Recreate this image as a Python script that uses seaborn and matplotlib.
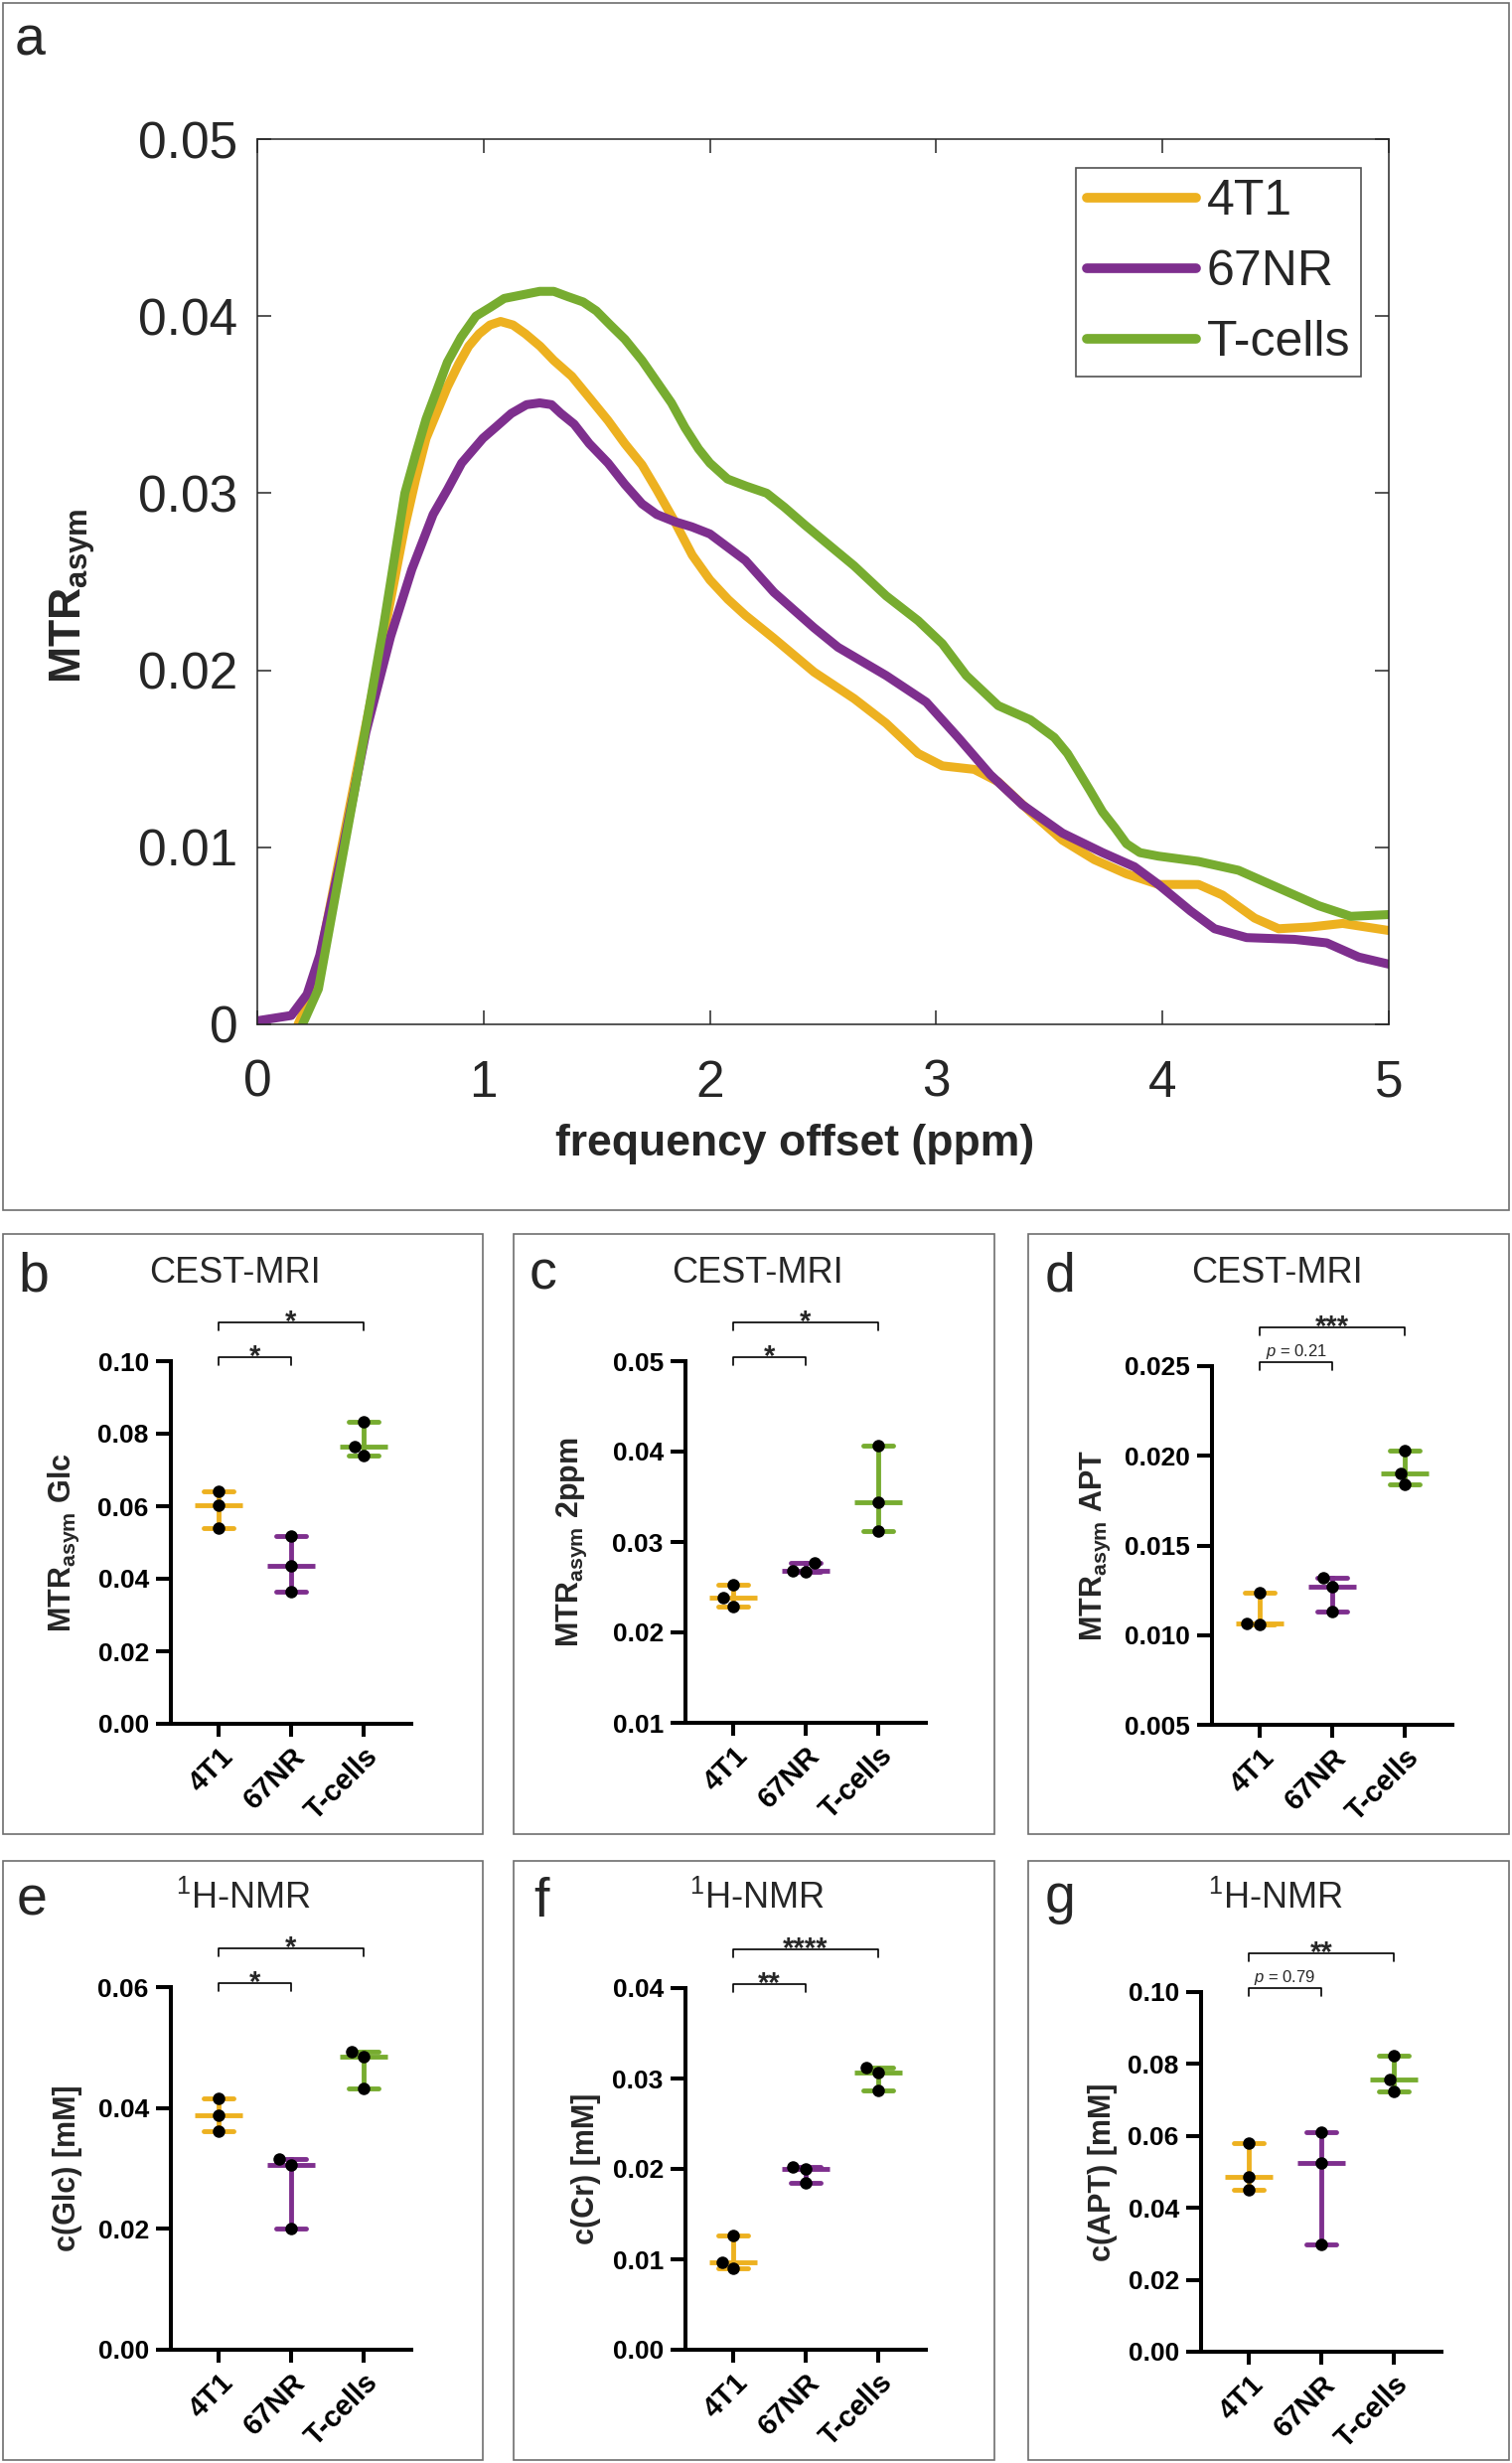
import numpy as np
import pandas as pd
import matplotlib
matplotlib.use('Agg')
import matplotlib.pyplot as plt
import matplotlib.transforms as mtransforms
from matplotlib.patches import Rectangle
from matplotlib.ticker import FormatStrFormatter
import seaborn as sns

# ---- panel a: MTRasym z-spectra ----
ppm_4t1 = [0.18, 0.25, 0.354, 0.45, 0.558, 0.65, 0.70, 0.746, 0.84, 0.89, 0.934, 0.98, 1.028,
           1.075, 1.13, 1.185, 1.25, 1.31, 1.39, 1.467, 1.55, 1.624, 1.70, 1.765, 1.84, 1.922,
           2.0, 2.08, 2.157, 2.283, 2.46, 2.637, 2.779, 2.92, 3.027, 3.168, 3.274, 3.416,
           3.558, 3.699, 3.841, 3.982, 4.159, 4.265, 4.407, 4.513, 4.655, 4.796, 5.0]
mtr_4t1 = [0.0, 0.002, 0.0088, 0.0150, 0.0219, 0.0280, 0.0308, 0.0331, 0.0360, 0.0373, 0.0383,
           0.0390, 0.0395, 0.0397, 0.0395, 0.0390, 0.0383, 0.0375, 0.0366, 0.0354, 0.0341,
           0.0328, 0.0316, 0.0302, 0.0285, 0.0265, 0.0251, 0.0240, 0.0231, 0.0218, 0.0199,
           0.0184, 0.0170, 0.0153, 0.0146, 0.0144, 0.0137, 0.0120, 0.0104, 0.0093, 0.0085,
           0.0079, 0.0079, 0.0073, 0.0060, 0.0054, 0.0055, 0.0057, 0.0053]

ppm_67nr = [0.0, 0.15, 0.22, 0.276, 0.37, 0.48, 0.589, 0.683, 0.777, 0.84, 0.903, 0.997, 1.06,
            1.122, 1.19, 1.248, 1.30, 1.342, 1.40, 1.467, 1.55, 1.624, 1.70, 1.765, 1.843,
            1.92, 2.0, 2.157, 2.283, 2.46, 2.566, 2.779, 2.956, 3.097, 3.239, 3.381, 3.558,
            3.735, 3.876, 3.982, 4.124, 4.23, 4.372, 4.584, 4.726, 4.867, 5.0]
mtr_67nr = [0.0002, 0.0005, 0.0017, 0.0039, 0.0094, 0.0165, 0.0219, 0.0257, 0.0288, 0.0302,
            0.0317, 0.0331, 0.0338, 0.0345, 0.0350, 0.0351, 0.0350, 0.0345, 0.0339, 0.0328,
            0.0317, 0.0305, 0.0294, 0.0288, 0.0284, 0.0281, 0.0277, 0.0262, 0.0244, 0.0224,
            0.0213, 0.0197, 0.0182, 0.0162, 0.0141, 0.0124, 0.0108, 0.0097, 0.0089, 0.0079,
            0.0064, 0.0054, 0.0049, 0.0048, 0.0046, 0.0038, 0.0034]

ppm_tcell = [0.2, 0.27, 0.354, 0.433, 0.558, 0.652, 0.70, 0.746, 0.84, 0.90, 0.966, 1.03, 1.091,
             1.17, 1.248, 1.31, 1.373, 1.44, 1.498, 1.56, 1.624, 1.70, 1.765, 1.83, 1.89, 1.95,
             2.0, 2.078, 2.16, 2.251, 2.33, 2.42, 2.637, 2.779, 2.92, 3.027, 3.133, 3.274,
             3.416, 3.522, 3.58, 3.628, 3.68, 3.735, 3.79, 3.841, 3.90, 3.982, 4.159, 4.336,
             4.513, 4.69, 4.832, 5.0]
mtr_tcell = [0.0, 0.002, 0.0079, 0.0134, 0.0225, 0.0300, 0.0322, 0.0342, 0.0374, 0.0388,
             0.0400, 0.0405, 0.0410, 0.0412, 0.0414, 0.0414, 0.0411, 0.0408, 0.0403, 0.0395,
             0.0387, 0.0375, 0.0363, 0.0351, 0.0337, 0.0325, 0.0317, 0.0308, 0.0304, 0.0300,
             0.0292, 0.0282, 0.0259, 0.0242, 0.0228, 0.0215, 0.0197, 0.0180, 0.0172, 0.0162,
             0.0153, 0.0143, 0.0132, 0.0120, 0.0111, 0.0102, 0.0097, 0.0095, 0.0092, 0.0087,
             0.0077, 0.0067, 0.0061, 0.0062]

# ---- panels b-g: three replicates per group ----
groups = ['4T1', '67NR', 'T-cells']
colors = ['#EDB120', '#7E2F8E', '#77AC30']

cest_glc = [[0.0641, 0.0603, 0.0539], [0.0517, 0.0436, 0.0364], [0.0832, 0.0764, 0.0739]]
cest_2ppm = [[0.02526, 0.02383, 0.02291], [0.02770, 0.02683, 0.02674], [0.04065, 0.03435, 0.03122]]
cest_apt = [[0.01237, 0.01059, 0.01066], [0.01320, 0.01272, 0.01129], [0.02029, 0.01904, 0.01838]]
nmr_glc = [[0.04159, 0.03885, 0.03612], [0.03150, 0.03052, 0.01998], [0.04927, 0.04855, 0.04328]]
nmr_cr = [[0.01261, 0.00965, 0.00900], [0.02022, 0.01996, 0.01848], [0.03117, 0.03061, 0.02865]]
nmr_apt = [[0.05814, 0.04852, 0.04503], [0.06109, 0.05246, 0.02995], [0.08219, 0.07563, 0.07235]]

sns.set_theme(style='ticks')
plt.rcParams['font.family'] = ['Liberation Sans', 'DejaVu Sans']
plt.rcParams['mathtext.fontset'] = 'custom'
plt.rcParams['mathtext.rm'] = 'Liberation Sans'
plt.rcParams['mathtext.bf'] = 'Liberation Sans:bold'
plt.rcParams['mathtext.it'] = 'Liberation Sans:italic'

W, H = 1522, 2479
fig = plt.figure(figsize=(W / 100, H / 100), dpi=100)


def px_rect(x0, y0, x1, y1):
    return [x0 / W, 1 - y1 / H, (x1 - x0) / W, (y1 - y0) / H]


# panel frames
frames = [(3, 3, 1519, 1218),
          (3, 1242, 486, 1846), (517, 1242, 1001, 1846), (1035, 1242, 1519, 1846),
          (3, 1873, 486, 2476), (517, 1873, 1001, 2476), (1035, 1873, 1519, 2476)]
for x0, y0, x1, y1 in frames:
    r = px_rect(x0, y0, x1, y1)
    fig.add_artist(Rectangle((r[0], r[1]), r[2], r[3], transform=fig.transFigure,
                             fill=False, ec='#6e6e6e', lw=1.2))

# ---------------- panel a ----------------
ax = fig.add_axes(px_rect(259, 140, 1398, 1031))
spec = pd.DataFrame({
    'ppm': ppm_4t1 + ppm_67nr + ppm_tcell,
    'mtr': mtr_4t1 + mtr_67nr + mtr_tcell,
    'sample': ['4T1'] * len(ppm_4t1) + ['67NR'] * len(ppm_67nr) + ['T-cells'] * len(ppm_tcell),
})
sns.lineplot(data=spec, x='ppm', y='mtr', hue='sample', hue_order=groups, palette=colors,
             estimator=None, lw=6.5, solid_joinstyle='round', legend=False, ax=ax)
ax.set_xlim(0, 5)
ax.set_ylim(0, 0.05)
ax.set_xticks(range(6))
ax.set_yticks(np.arange(0, 0.051, 0.01))
ax.set_yticklabels(['0', '0.01', '0.02', '0.03', '0.04', '0.05'])
ax.tick_params(direction='in', top=True, right=True, length=10, width=1.1,
               labelsize=37, colors='#262626')
ax.tick_params(axis='x', pad=25)
ax.tick_params(axis='y', pad=14)
for s in ax.spines.values():
    s.set_linewidth(1.1)
    s.set_color('#262626')
ax.set_xlabel('frequency offset (ppm)', fontsize=32, fontweight='bold')
ax.xaxis.set_label_coords(0.475, -0.112)
ax.set_ylabel(r'$\mathbf{MTR}_{\mathbf{asym}}$', fontsize=32)
ax.yaxis.set_label_coords(-0.141, 0.484)
leg = ax.legend(ax.lines[:3], groups, loc='upper right', bbox_to_anchor=(0.9754, 0.967),
                borderaxespad=0, fontsize=36, frameon=True, fancybox=False,
                edgecolor='#262626', handlelength=2.2, handletextpad=0.2,
                labelspacing=0.5, borderpad=0.22)
leg.get_frame().set_linewidth(1.2)
for line in leg.get_lines():
    line.set_linewidth(7)
fig.text(15 / W, 1 - 56 / H, 'a', fontsize=40, va='baseline')


# ---------------- panels b-g ----------------
def scatter_panel(left, top, bottom, vals, lims, step, fmt, ylabel, ylab_x, sig):
    ax = fig.add_axes([left / W, 1 - bottom / H, 242 / W, (bottom - top) / H])
    df = pd.DataFrame({'group': np.repeat(groups, 3), 'value': np.ravel(vals)})
    # median with range, GraphPad style
    sns.pointplot(data=df, x='group', y='value', hue='group', order=groups, hue_order=groups,
                  palette=colors, estimator=np.median, errorbar=('pi', 100), capsize=0.41,
                  markers='_', markersize=34, markeredgewidth=3.5, linestyle='none',
                  linewidth=3.5, legend=False, ax=ax)
    sns.swarmplot(data=df, x='group', y='value', order=groups, color='black', size=9,
                  zorder=5, ax=ax)
    ax.set_xlim(-0.66, 2.66)
    ax.set_ylim(*lims)
    ax.set_yticks(np.arange(lims[0], lims[1] + step / 2, step))
    ax.yaxis.set_major_formatter(FormatStrFormatter(fmt))
    sns.despine(ax=ax)
    for s in ['left', 'bottom']:
        ax.spines[s].set_linewidth(2.9)
        ax.spines[s].set_color('black')
    ax.tick_params(axis='y', direction='out', length=11, width=2.9, labelsize=19, pad=5,
                   colors='black')
    ax.tick_params(axis='x', direction='out', length=9.5, width=2.9, labelsize=21, pad=4,
                   colors='black')
    for t in ax.get_yticklabels() + ax.get_xticklabels():
        t.set_fontweight('bold')
    plt.setp(ax.get_xticklabels(), rotation=45, ha='right', rotation_mode='anchor')
    ax.set_xlabel('')
    ax.set_ylabel(ylabel, fontsize=22)
    ax.yaxis.label.set_fontweight('heavy')
    ax.yaxis.set_label_coords(ylab_x, 0.5)

    # significance brackets
    trans = mtransforms.blended_transform_factory(ax.transData, ax.transAxes)
    for (x1, x2, yb), txt in zip([(0, 1, 1.012), (0, 2, 1.107)], sig):
        ax.plot([x1, x1, x2, x2], [yb - 0.022, yb, yb, yb - 0.022], color='black', lw=1.2,
                transform=trans, clip_on=False)
        if txt.startswith('p'):
            ax.text((x1 + x2) / 2, yb + 0.015, r'$\mathit{p}$' + txt[1:], fontsize=12,
                    ha='center', va='baseline', transform=trans)
        else:
            ax.text((x1 + x2) / 2, yb - 0.022, txt, fontsize=21, fontweight='bold',
                    ha='center', va='baseline', transform=trans)
    return ax


scatter_panel(172, 1370, 1735, cest_glc, (0, 0.10), 0.02, '%.2f',
              r'$\mathbf{MTR}_{\mathbf{asym}}$ Glc', -0.372, ['*', '*'])
scatter_panel(690, 1370, 1734, cest_2ppm, (0.01, 0.05), 0.01, '%.2f',
              r'$\mathbf{MTR}_{\mathbf{asym}}$ 2ppm', -0.40, ['*', '*'])
scatter_panel(1220, 1375, 1736, cest_apt, (0.005, 0.025), 0.005, '%.3f',
              r'$\mathbf{MTR}_{\mathbf{asym}}$ APT', -0.413, ['p = 0.21', '***'])
scatter_panel(172, 2000, 2365, nmr_glc, (0, 0.06), 0.02, '%.2f',
              'c(Glc) [mM]', -0.368, ['*', '*'])
scatter_panel(690, 2001, 2365, nmr_cr, (0, 0.04), 0.01, '%.2f',
              'c(Cr) [mM]', -0.35, ['**', '****'])
scatter_panel(1209, 2005, 2367, nmr_apt, (0, 0.10), 0.02, '%.2f',
              'c(APT) [mM]', -0.347, ['p = 0.79', '**'])

# panel letters and titles
for letter, x, y in [('b', 18, 1299), ('c', 533, 1297), ('d', 1052, 1299),
                     ('e', 17, 1927), ('f', 537, 1929), ('g', 1052, 1925)]:
    fig.text(x / W, 1 - y / H, letter, fontsize=40, va='baseline')
for title, x, y in [('CEST-MRI', 236, 1291), ('CEST-MRI', 762, 1291), ('CEST-MRI', 1285, 1291),
                    (r'$^{1}$H-NMR', 245, 1921), (r'$^{1}$H-NMR', 762, 1921),
                    (r'$^{1}$H-NMR', 1284, 1921)]:
    fig.text(x / W, 1 - y / H, title, fontsize=26, ha='center', va='baseline')

fig.savefig('out.png', dpi=100)
